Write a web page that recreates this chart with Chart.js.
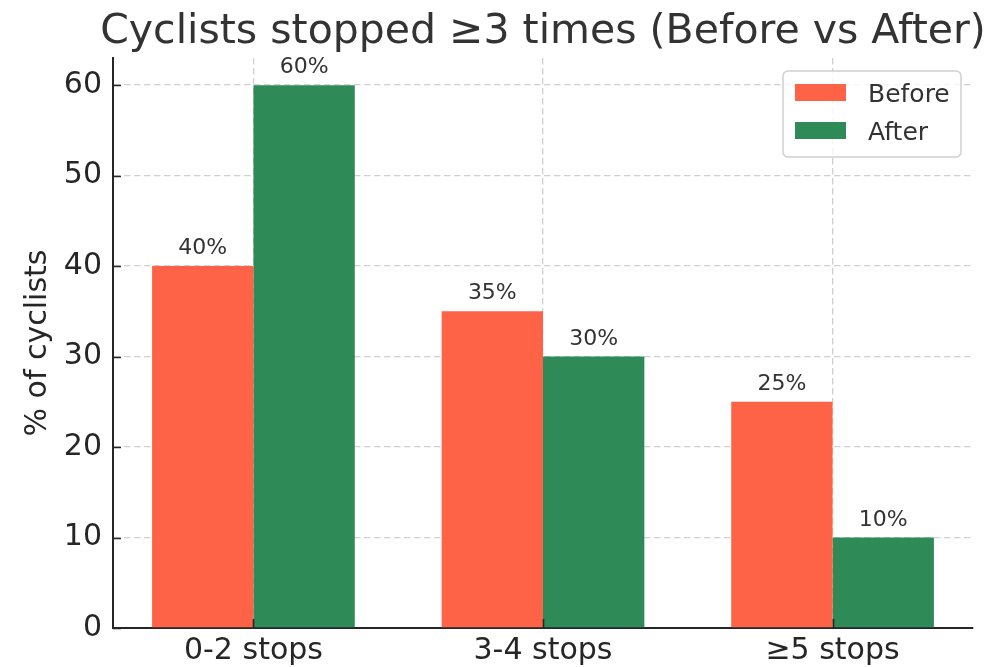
<!DOCTYPE html>
<html>
<head>
<meta charset="utf-8">
<title>Cyclists stopped ≥3 times</title>
<style>
  html, body { margin: 0; padding: 0; background: #ffffff; }
  #wrap { width: 999px; height: 667px; }
</style>
<script src="https://cdn.jsdelivr.net/npm/chart.js@4/dist/chart.umd.min.js"></script>
</head>
<body>
<div id="wrap"><canvas id="chart" width="999" height="667"></canvas></div>
<script>
// ---- data ----
const categories = ['0-2 stops', '3-4 stops', '≥5 stops'];
const beforeValues = [40, 35, 25];
const afterValues = [60, 30, 10];
const seriesNames = ['Before', 'After'];
const yTickValues = [0, 10, 20, 30, 40, 50, 60];
const chartTitle = 'Cyclists stopped ≥3 times (Before vs After)';
const yAxisTitle = '% of cyclists';

// ---- styling ----
const FONT = "'DejaVu Sans', 'Liberation Sans', sans-serif";
const TEXT = '#262626';
const SERIES_COLORS = ['#FF6347', '#2E8B57'];
const GRID = 'rgba(170,170,170,0.55)';

const toPoints = vals => vals.map((v, i) => ({ x: i, y: v }));

// Title centred over the plot area
const headline = {
  id: 'headline',
  afterDraw(chart) {
    const { ctx, chartArea } = chart;
    ctx.save();
    ctx.font = `41px ${FONT}`;
    ctx.fillStyle = '#333333';
    ctx.textAlign = 'center';
    ctx.textBaseline = 'alphabetic';
    ctx.fillText(chartTitle, (chartArea.left + chartArea.right) / 2, 43);
    ctx.restore();
  }
};

// "NN%" labels above every bar
const valueLabels = {
  id: 'valueLabels',
  afterDraw(chart) {
    const { ctx } = chart;
    ctx.save();
    ctx.font = `22px ${FONT}`;
    ctx.fillStyle = '#333333';
    ctx.textAlign = 'center';
    ctx.textBaseline = 'alphabetic';
    chart.data.datasets.forEach((ds, di) => {
      chart.getDatasetMeta(di).data.forEach((bar, i) => {
        ctx.fillText(ds.data[i].y + '%', bar.x, bar.y - 12);
      });
    });
    ctx.restore();
  }
};

// Short tick marks pointing into the plot area
const innerTicks = {
  id: 'innerTicks',
  afterDraw(chart) {
    const { ctx, chartArea, scales } = chart;
    ctx.save();
    ctx.strokeStyle = TEXT;
    ctx.lineWidth = 1.6;
    ctx.beginPath();
    scales.y.ticks.forEach(t => {
      const py = Math.round(scales.y.getPixelForValue(t.value)) + 0.5;
      ctx.moveTo(chartArea.left, py);
      ctx.lineTo(chartArea.left + 8, py);
    });
    scales.x.ticks.forEach(t => {
      const px = Math.round(scales.x.getPixelForValue(t.value)) + 0.5;
      ctx.moveTo(px, chartArea.bottom);
      ctx.lineTo(px, chartArea.bottom - 9);
    });
    ctx.stroke();
    ctx.restore();
  }
};

// Framed legend in the upper-right corner of the plot
const boxLegend = {
  id: 'boxLegend',
  afterDraw(chart) {
    const { ctx, chartArea } = chart;
    const w = 178, h = 86, r = 5;
    const x = chartArea.right - 12 - w, y = chartArea.top + 13;
    ctx.save();
    ctx.beginPath();
    ctx.roundRect(x, y, w, h, r);
    ctx.fillStyle = 'rgba(255,255,255,0.8)';
    ctx.fill();
    ctx.lineWidth = 1.5;
    ctx.strokeStyle = '#d0d0d0';
    ctx.stroke();
    ctx.font = `25px ${FONT}`;
    ctx.textAlign = 'left';
    ctx.textBaseline = 'middle';
    chart.data.datasets.forEach((ds, i) => {
      const cy = y + 22 + i * 38;
      ctx.fillStyle = ds.backgroundColor;
      ctx.fillRect(x + 12, cy - 9, 51, 17);
      ctx.fillStyle = '#333333';
      ctx.fillText(ds.label, x + 85, cy + 2);
    });
    ctx.restore();
  }
};

new Chart(document.getElementById('chart'), {
  type: 'bar',
  data: {
    datasets: [
      { label: seriesNames[0], data: toPoints(beforeValues), backgroundColor: SERIES_COLORS[0] },
      { label: seriesNames[1], data: toPoints(afterValues), backgroundColor: SERIES_COLORS[1] }
    ]
  },
  options: {
    responsive: false,
    animation: false,
    devicePixelRatio: 1,
    layout: { padding: { left: 0, top: 58, right: 26, bottom: 0 } },
    datasets: { bar: { categoryPercentage: 0.7, barPercentage: 1.0, borderWidth: 0 } },
    plugins: {
      legend: { display: false },
      title: { display: false },
      tooltip: { enabled: false }
    },
    scales: {
      x: {
        type: 'linear',
        min: -0.485,
        max: 2.485,
        offset: false,
        z: 1,
        afterBuildTicks: s => { s.ticks = categories.map((_, i) => ({ value: i })); },
        afterFit: s => { s.height = 39; },
        grid: { offset: false, color: GRID, lineWidth: 1.3, drawTicks: false },
        border: { display: true, color: TEXT, width: 2, dash: [6.5, 3.5] },
        ticks: {
          autoSkip: false, maxRotation: 0, padding: 5,
          color: TEXT, font: { family: FONT, size: 30 },
          callback: v => categories[v]
        }
      },
      y: {
        min: 0,
        max: 63,
        z: 1,
        afterBuildTicks: s => { s.ticks = yTickValues.map(v => ({ value: v })); },
        afterFit: s => { s.width = 113; },
        grid: { color: GRID, lineWidth: 1.3, drawTicks: false },
        border: { display: true, color: TEXT, width: 2, dash: [6.5, 3.5] },
        ticks: { padding: 11, color: TEXT, font: { family: FONT, size: 30 } },
        title: {
          display: true, text: yAxisTitle, color: TEXT,
          font: { family: FONT, size: 30 }, padding: { top: 20, bottom: 0 }
        }
      }
    }
  },
  plugins: [headline, valueLabels, innerTicks, boxLegend]
});
</script>
</body>
</html>
